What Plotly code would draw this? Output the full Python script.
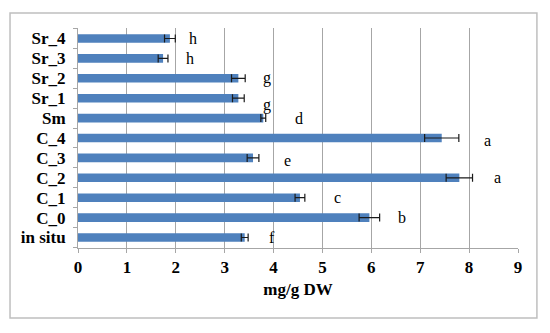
import plotly.graph_objects as go

categories = ["in situ", "C_0", "C_1", "C_2", "C_3", "C_4", "Sm", "Sr_1", "Sr_2", "Sr_3", "Sr_4"]
values = [3.41, 5.96, 4.54, 7.80, 3.58, 7.44, 3.79, 3.28, 3.28, 1.74, 1.88]
errors = [0.07, 0.21, 0.10, 0.27, 0.12, 0.35, 0.05, 0.12, 0.14, 0.10, 0.11]
letters = ["f", "b", "c", "a", "e", "a", "d", "g", "g", "h", "h"]
letter_x = [3.97, 6.63, 5.30, 8.59, 4.29, 8.38, 4.52, 3.86, 3.86, 2.29, 2.35]
letter_dy = [0, 0, 0, 0, -3, -2, 0, -7, 0, 0, 0]
x_ticks = list(range(0, 10))

FONT = "Liberation Serif"

fig = go.Figure()
fig.add_trace(go.Bar(
    y=categories, x=values, orientation="h",
    marker=dict(color="#4F81BD", line=dict(width=0)),
    error_x=dict(type="data", array=errors, color="#1a1a1a", thickness=1.2, width=4),
    width=0.43,
))

for cat, lx, lt, dy in zip(categories, letter_x, letters, letter_dy):
    fig.add_annotation(x=lx, y=cat, text=lt, showarrow=False, yshift=dy,
                       font=dict(family=FONT, size=16, color="#000"))

fig.add_shape(type="rect", xref="paper", yref="paper",
              x0=-0.1545, x1=1.043, y0=-0.318, y1=1.068,
              line=dict(color="#BFBFBF", width=1.5), layer="above")

fig.update_layout(
    width=542, height=325,
    margin=dict(l=70, r=32, t=20, b=85),
    paper_bgcolor="white", plot_bgcolor="white",
    showlegend=False,
    font=dict(family=FONT, color="#000"),
    xaxis=dict(
        range=[0, 9], tickvals=x_ticks, ticktext=["<b>%d</b>" % t for t in x_ticks],
        showgrid=True, gridcolor="#A6A6A6", gridwidth=1,
        showline=True, linecolor="#A6A6A6", linewidth=1,
        ticks="outside", ticklen=4, tickcolor="#A6A6A6",
        tickfont=dict(family=FONT, size=17, color="#000"),
        title=dict(text="<b>mg/g DW</b>", font=dict(family=FONT, size=17, color="#000"), standoff=6),
        zeroline=False, automargin=False,
    ),
    yaxis=dict(
        type="category", categoryorder="array", categoryarray=categories,
        tickvals=categories, ticktext=["<b>%s</b>" % c for c in categories],
        showgrid=False, showline=True, linecolor="#A6A6A6", linewidth=1,
        ticks="outside", ticklen=4, tickcolor="#A6A6A6", tickson="boundaries",
        tickfont=dict(family=FONT, size=17, color="#000"),
        ticklabelstandoff=8, automargin=False,
    ),
)

fig.write_html("out.html")
